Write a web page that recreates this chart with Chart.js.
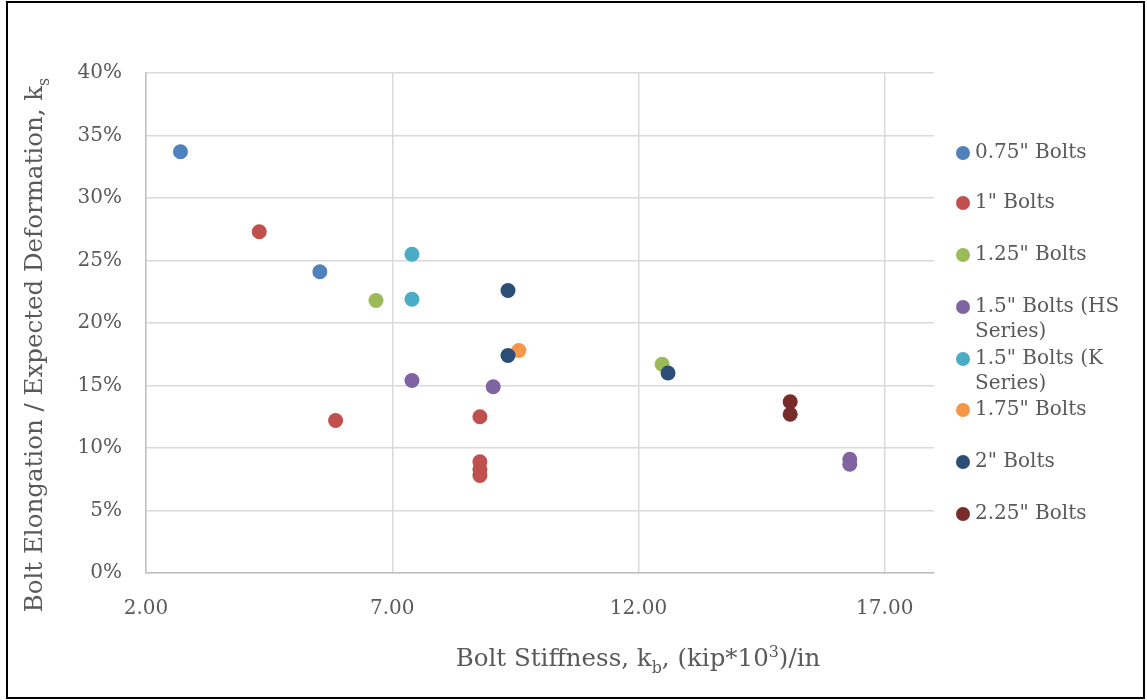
<!DOCTYPE html>
<html>
<head>
<meta charset="utf-8">
<script src="https://cdn.jsdelivr.net/npm/chart.js@4/dist/chart.umd.min.js"></script>
<style>
  html, body { margin: 0; padding: 0; background: #ffffff; }
  canvas { display: block; }
</style>
</head>
<body>
<canvas id="c" width="1147" height="700"></canvas>
<script>
// ---- data ----
const seriesNames = ['0.75" Bolts', '1" Bolts', '1.25" Bolts', '1.5" Bolts (HS Series)', '1.5" Bolts (K Series)', '1.75" Bolts', '2" Bolts', '2.25" Bolts'];
const legendLines = [['0.75" Bolts'], ['1" Bolts'], ['1.25" Bolts'], ['1.5" Bolts (HS', 'Series)'], ['1.5" Bolts (K', 'Series)'], ['1.75" Bolts'], ['2" Bolts'], ['2.25" Bolts']];
const seriesColors = ['#4F81BD', '#C0504D', '#9BBB59', '#8064A2', '#4BACC6', '#F79646', '#2C4D75', '#772C2A'];

const x075 = [2.70, 5.53];
const y075 = [33.7, 24.1];
const x100 = [4.30, 5.85, 8.78, 8.78, 8.78, 8.78];
const y100 = [27.3, 12.2, 12.5, 8.9, 8.3, 7.8];
const x125 = [6.67, 12.48];
const y125 = [21.8, 16.7];
const x150HS = [7.40, 9.05, 16.29, 16.29];
const y150HS = [15.4, 14.9, 9.1, 8.7];
const x150K = [7.40, 7.40];
const y150K = [25.5, 21.9];
const x175 = [9.57];
const y175 = [17.8];
const x200 = [9.35, 9.35, 12.60];
const y200 = [22.6, 17.4, 16.0];
const x225 = [15.08, 15.08];
const y225 = [13.7, 12.7];

const xTickValues = [2, 7, 12, 17];
const xTickLabels = ['2.00', '7.00', '12.00', '17.00'];
const yTickValues = [0, 5, 10, 15, 20, 25, 30, 35, 40];
const yTickLabels = ['0%', '5%', '10%', '15%', '20%', '25%', '30%', '35%', '40%'];

const xTitleRuns = [{t: 'Bolt Stiffness, k'}, {t: 'b', sub: true}, {t: ', (kip*10'}, {t: '3', sup: true}, {t: ')/in'}];
const yTitleRuns = [{t: 'Bolt Elongation / Expected Deformation, k'}, {t: 's', sub: true}];

// ---- build datasets ----
const xs = [x075, x100, x125, x150HS, x150K, x175, x200, x225];
const ys = [y075, y100, y125, y150HS, y150K, y175, y200, y225];
const datasets = seriesNames.map((name, i) => ({
  label: name,
  data: xs[i].map((x, j) => ({x: x, y: ys[i][j]})),
  backgroundColor: seriesColors[i],
  borderColor: seriesColors[i],
  borderWidth: 0,
  pointRadius: 7.5,
  pointHoverRadius: 7.5,
  order: seriesNames.length - i
}));

const TEXT = '#595959';
const FONT = "'DejaVu Serif', serif";

function measureRuns(ctx, runs, size) {
  let total = 0;
  const parts = runs.map(r => {
    const s = (r.sub || r.sup) ? size * 0.65 : size;
    ctx.font = s + 'px ' + FONT;
    const w = ctx.measureText(r.t).width;
    total += w;
    return {r, s, w};
  });
  return {parts, total};
}
function renderRuns(ctx, runs, size, cx, cy) {
  const {parts, total} = measureRuns(ctx, runs, size);
  let x = cx - total / 2;
  ctx.textBaseline = 'alphabetic';
  ctx.textAlign = 'left';
  ctx.fillStyle = TEXT;
  parts.forEach(p => {
    ctx.font = p.s + 'px ' + FONT;
    let dy = 0;
    if (p.r.sub) dy = size * 0.28;
    if (p.r.sup) dy = -size * 0.38;
    ctx.fillText(p.r.t, x, cy + dy);
    x += p.w;
  });
}

const decorPlugin = {
  id: 'decor',
  beforeDraw(chart) {
    const ctx = chart.ctx;
    ctx.save();
    ctx.fillStyle = '#ffffff';
    ctx.fillRect(0, 0, chart.width, chart.height);
    ctx.restore();
  },
  afterDraw(chart) {
    const ctx = chart.ctx;
    ctx.save();
    // axis titles
    renderRuns(ctx, xTitleRuns, 24.5, 638, 666);
    ctx.save();
    ctx.translate(42, 345);
    ctx.rotate(-Math.PI / 2);
    renderRuns(ctx, yTitleRuns, 24.5, 0, 0);
    ctx.restore();
    // legend
    const lx = 963, textX = 975;
    const itemY = [153, 203, 255, 307, 359, 410, 462, 514];
    chart.data.datasets.forEach((ds, i) => {
      const y = itemY[i];
      ctx.beginPath();
      ctx.arc(lx, y, 7, 0, Math.PI * 2);
      ctx.fillStyle = ds.backgroundColor;
      ctx.fill();
      ctx.font = '20px ' + FONT;
      ctx.fillStyle = TEXT;
      ctx.textAlign = 'left';
      ctx.textBaseline = 'middle';
      legendLines[i].forEach((line, k) => {
        ctx.fillText(line, textX, y + k * 25);
      });
    });
    // outer frame
    ctx.strokeStyle = '#000000';
    ctx.lineWidth = 2;
    ctx.strokeRect(7, 2, 1137, 696);
    ctx.restore();
  }
};

new Chart(document.getElementById('c'), {
  type: 'scatter',
  data: { datasets: datasets },
  options: {
    responsive: false,
    devicePixelRatio: 1,
    animation: false,
    layout: { padding: { left: 0, top: 73, right: 213, bottom: 0 } },
    plugins: {
      legend: { display: false },
      tooltip: { enabled: false },
      title: { display: false }
    },
    scales: {
      x: {
        type: 'linear',
        min: 2,
        max: 18,
        afterBuildTicks(scale) { scale.ticks = xTickValues.map(v => ({value: v})); },
        afterFit(scale) { scale.height = 127; },
        ticks: {
          color: TEXT,
          font: { family: FONT, size: 20 },
          padding: 24,
          callback(value) { const k = xTickValues.indexOf(value); return k >= 0 ? xTickLabels[k] : ''; }
        },
        grid: { color: '#d9d9d9', lineWidth: 1.5, drawTicks: false },
        border: { color: '#bfbfbf', width: 1.5 }
      },
      y: {
        type: 'linear',
        min: 0,
        max: 40,
        afterBuildTicks(scale) { scale.ticks = yTickValues.map(v => ({value: v})); },
        afterFit(scale) { scale.width = 146; },
        ticks: {
          color: TEXT,
          font: { family: FONT, size: 20 },
          padding: 24,
          callback(value) { const k = yTickValues.indexOf(value); return k >= 0 ? yTickLabels[k] : ''; }
        },
        grid: { color: '#d9d9d9', lineWidth: 1.5, drawTicks: false },
        border: { color: '#bfbfbf', width: 1.5 }
      }
    }
  },
  plugins: [decorPlugin]
});
</script>
</body>
</html>
